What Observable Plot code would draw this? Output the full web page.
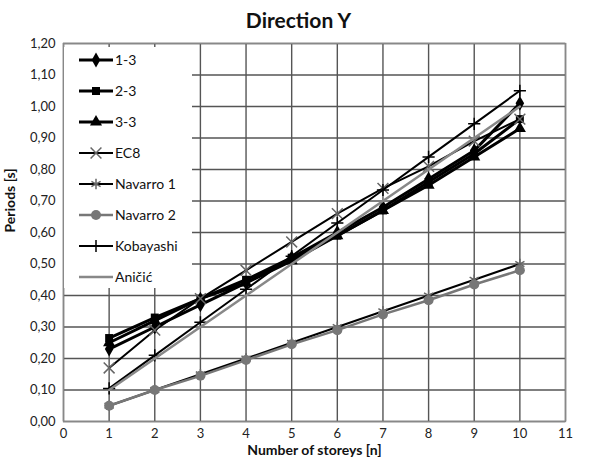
<!DOCTYPE html>
<html><head><meta charset="utf-8">
<script src="https://cdn.jsdelivr.net/npm/d3@7"></script>
<script src="https://cdn.jsdelivr.net/npm/@observablehq/plot@0.6"></script>
<style>
body{margin:0;background:#fff;font-family:Lato,"Open Sans",sans-serif}
#title{width:589px;height:34px;line-height:40px;text-align:center;font-weight:bold;font-size:21px;padding-left:8px;box-sizing:border-box;color:#111}
</style>
</head><body>
<div id="title">Direction Y</div>
<div id="chart"></div>
<script>
const storeys = [1, 2, 3, 4, 5, 6, 7, 8, 9, 10];
const xTicks = [0, 1, 2, 3, 4, 5, 6, 7, 8, 9, 10, 11];
const yTicks = [0, 0.1, 0.2, 0.3, 0.4, 0.5, 0.6, 0.7, 0.8, 0.9, 1.0, 1.1, 1.2];
const seriesNames = ["1-3", "2-3", "3-3", "EC8", "Navarro 1", "Navarro 2", "Kobayashi", "Aničić"];
const t13 = [0.23, 0.30, 0.37, 0.44, 0.52, 0.60, 0.68, 0.77, 0.86, 1.01];
const t23 = [0.265, 0.33, 0.39, 0.45, 0.52, 0.59, 0.67, 0.76, 0.85, 0.96];
const t33 = [0.25, 0.32, 0.39, 0.44, 0.51, 0.59, 0.67, 0.75, 0.84, 0.93];
const tEC8 = [0.17, 0.29, 0.39, 0.48, 0.57, 0.66, 0.74, 0.81, 0.89, 0.96];
const tNav1 = [0.05, 0.10, 0.15, 0.20, 0.25, 0.30, 0.35, 0.40, 0.45, 0.50];
const tNav2 = [0.05, 0.10, 0.145, 0.195, 0.245, 0.29, 0.34, 0.385, 0.435, 0.48];
const tKob = [0.105, 0.21, 0.315, 0.42, 0.525, 0.63, 0.735, 0.84, 0.945, 1.05];
const tAni = [0.10, 0.20, 0.30, 0.40, 0.50, 0.60, 0.70, 0.80, 0.90, 1.00];

const styles = {
  "1-3":       {vals: t13,  stroke: "#000", sw: 3,   symbol: "diamond",  d3sym: d3.symbolDiamond,  fill: "#000", mstroke: "none", r: 4.5},
  "2-3":       {vals: t23,  stroke: "#000", sw: 3,   symbol: "square",   d3sym: d3.symbolSquare,   fill: "#000", mstroke: "none", r: 4.5},
  "3-3":       {vals: t33,  stroke: "#000", sw: 3,   symbol: "triangle", d3sym: d3.symbolTriangle, fill: "#000", mstroke: "none", r: 4.5},
  "EC8":       {vals: tEC8, stroke: "#000", sw: 2,   symbol: "times",    d3sym: d3.symbolTimes,    fill: "none", mstroke: "#666", r: 5},
  "Navarro 1": {vals: tNav1,stroke: "#000", sw: 2,   symbol: "asterisk", d3sym: d3.symbolAsterisk, fill: "none", mstroke: "#666", r: 5},
  "Navarro 2": {vals: tNav2,stroke: "#777", sw: 2.5, symbol: "circle",   d3sym: d3.symbolCircle,   fill: "#777", mstroke: "none", r: 5},
  "Kobayashi": {vals: tKob, stroke: "#000", sw: 2,   symbol: "plus",     d3sym: d3.symbolPlus,     fill: "none", mstroke: "#000", r: 4},
  "Aničić":    {vals: tAni, stroke: "#888", sw: 2.5, symbol: null,       d3sym: null,              fill: "none", mstroke: "none", r: 0}
};

const fmt = d => d.toFixed(2).replace(".", ",");
const marks = [
  Plot.gridX(xTicks, {stroke: "#555", strokeOpacity: 1, strokeWidth: 1.4}),
  Plot.gridY(yTicks, {stroke: "#555", strokeOpacity: 1, strokeWidth: 1.4}),
  Plot.frame({stroke: "#888", strokeWidth: 1.4})
];
for (const name of seriesNames) {
  const s = styles[name];
  const rows = storeys.map((n, i) => ({n, T: s.vals[i]}));
  marks.push(Plot.line(rows, {x: "n", y: "T", stroke: s.stroke, strokeWidth: s.sw}));
  if (s.symbol) {
    marks.push(Plot.dot(rows, {x: "n", y: "T", symbol: () => s.symbol, r: s.r,
      fill: s.fill, stroke: s.mstroke, strokeWidth: 1.5}));
  }
}
marks.push(Plot.text(["Periods [s]"], {frameAnchor: "left", dx: -53, rotate: -90,
  fontWeight: "bold", fontSize: 14, fill: "#111"}));
marks.push(Plot.text(["Number of storeys [n]"], {frameAnchor: "bottom", dy: 33,
  fontWeight: "bold", fontSize: 14, fill: "#111"}));

const chart = Plot.plot({
  width: 589, height: 435,
  marginTop: 9, marginBottom: 48, marginLeft: 63, marginRight: 24,
  style: {fontFamily: "Lato, 'Open Sans', sans-serif", fontSize: "13px", color: "#222", background: "#fff"},
  x: {domain: [0, 11], ticks: xTicks, tickSize: 0, tickPadding: 7, label: null},
  y: {domain: [0, 1.2], ticks: yTicks, tickFormat: fmt, tickSize: 0, tickPadding: 8, label: null},
  symbol: {domain: ["diamond","square","triangle","times","asterisk","circle","plus"], range: ["diamond","square","triangle","times","asterisk","circle","plus"]},
  marks
});
document.getElementById("chart").appendChild(chart);

// Legend inside plot area (top-left)
const svg = d3.select(chart.tagName === "svg" ? chart : chart.querySelector("svg"));
const lg = svg.append("g").attr("text-anchor", "start");
lg.append("rect").attr("x", 64).attr("y", 13).attr("width", 128).attr("height", 241).attr("fill", "#fff");
seriesNames.forEach((name, i) => {
  const s = styles[name];
  const y = 26 + i * 31;
  lg.append("line").attr("x1", 79).attr("x2", 113).attr("y1", y).attr("y2", y)
    .attr("stroke", s.stroke).attr("stroke-width", s.sw);
  if (s.d3sym) {
    lg.append("path").attr("transform", `translate(96,${y})`)
      .attr("d", d3.symbol(s.d3sym, Math.PI * s.r * s.r)())
      .attr("fill", s.fill).attr("stroke", s.mstroke).attr("stroke-width", 1.5);
  }
  lg.append("text").attr("x", 115).attr("y", y).attr("dy", "0.35em")
    .attr("text-anchor", "start")
    .attr("font-size", 14).attr("fill", "#111").text(name);
});
</script>
</body></html>
